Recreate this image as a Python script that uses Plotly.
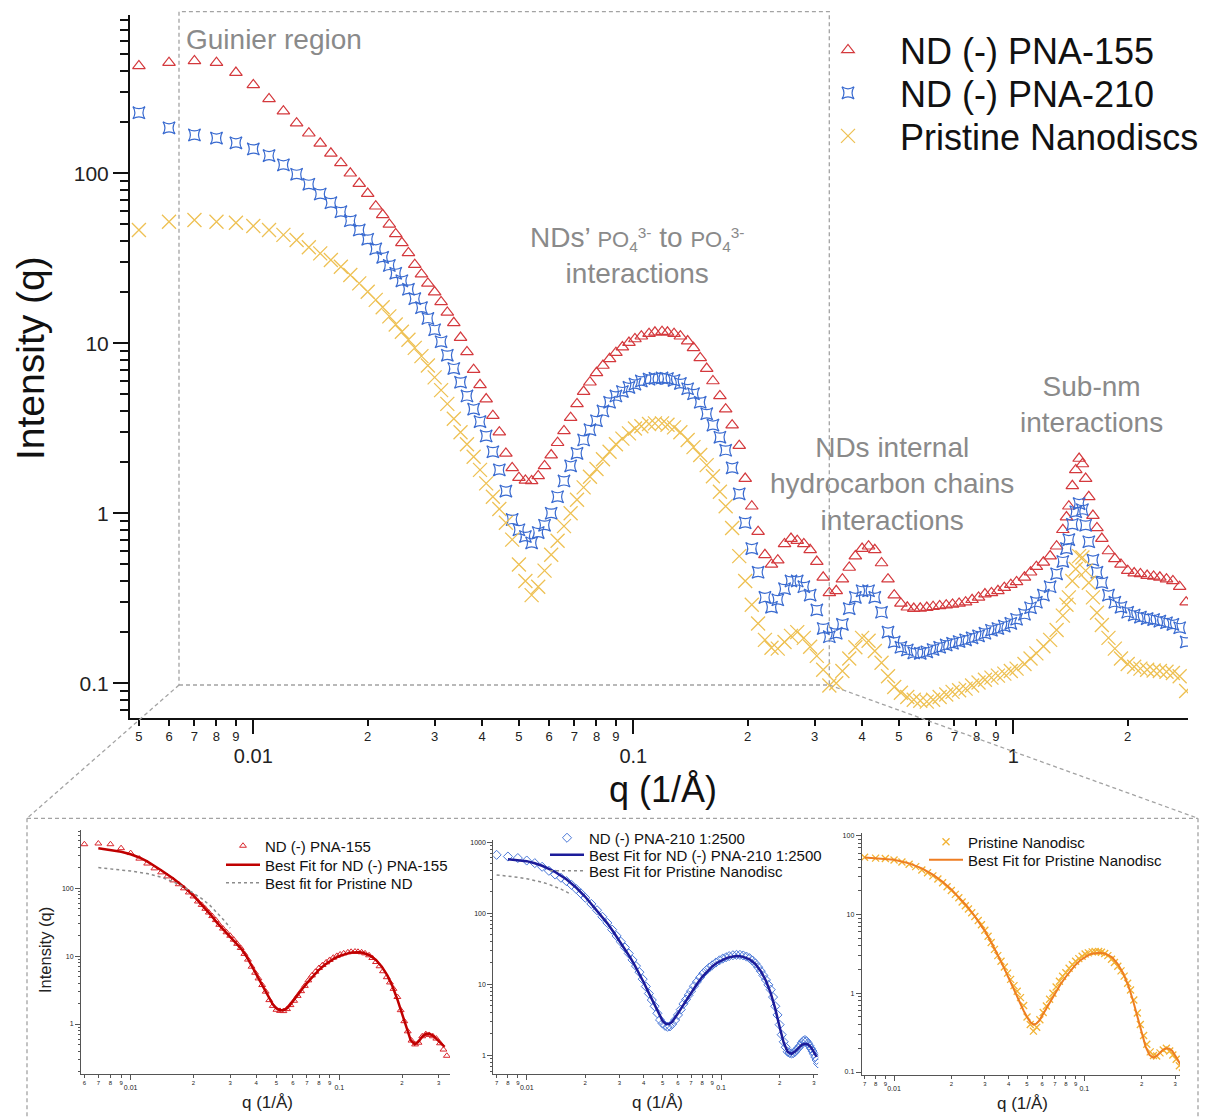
import plotly.graph_objects as go

# page body has an 8px default margin: the figure is drawn 8px right/down
OX, OY = 8, 8
W, H = 1216, 1109

# ---------------- main panel data (q in 1/Å, intensity) ----------------
q_main = [0.005, 0.006, 0.007, 0.008, 0.009, 0.010, 0.011, 0.012, 0.013, 0.014,
          0.015, 0.016, 0.017, 0.018, 0.019, 0.020,
          0.021, 0.0219, 0.0228, 0.0237, 0.0246, 0.0256, 0.0266, 0.0277, 0.0288, 0.030,
          0.0312, 0.0324, 0.0337, 0.0351, 0.0365, 0.038, 0.0395, 0.041, 0.0427, 0.0444,
          0.0462, 0.048, 0.050, 0.052, 0.054, 0.0562, 0.0584, 0.0608, 0.0632, 0.0657,
          0.0684, 0.0711, 0.074, 0.0769, 0.080, 0.0832, 0.0866, 0.090, 0.0936, 0.0974,
          0.101, 0.105, 0.110, 0.114, 0.119, 0.123, 0.128, 0.133, 0.139, 0.144,
          0.150, 0.156, 0.162, 0.169, 0.175, 0.182, 0.190, 0.197, 0.205, 0.213,
          0.222, 0.231, 0.240, 0.250, 0.260, 0.270, 0.281, 0.292, 0.304, 0.316,
          0.328, 0.342, 0.355, 0.370, 0.384, 0.400, 0.416, 0.432, 0.450, 0.468,
          0.486, 0.506, 0.526, 0.547, 0.569, 0.592, 0.615, 0.640, 0.666, 0.692,
          0.720, 0.749, 0.779, 0.810, 0.842, 0.876, 0.911, 0.947, 0.985, 1.02,
          1.07, 1.11, 1.15, 1.20, 1.25, 1.30, 1.35, 1.38, 1.40, 1.43,
          1.46, 1.49, 1.52, 1.55, 1.58, 1.62, 1.66, 1.71, 1.78, 1.85,
          1.92, 2.00, 2.08, 2.16, 2.25, 2.34, 2.43, 2.53, 2.63, 2.74,
          2.85]

I_pna155 = [428, 447, 458, 447, 391, 331, 274, 232, 197, 172,
            150, 131, 115, 100, 87, 76,
            64, 57, 50, 44, 39, 34, 29, 25.5, 22.5, 20,
            17.5, 15.2, 13.2, 10.8, 8.9, 7.0, 5.7, 4.7, 3.75, 3.0,
            2.25, 1.85, 1.62, 1.56, 1.55, 1.66, 1.9, 2.2, 2.6, 3.05,
            3.65, 4.4, 5.2, 5.9, 6.7, 7.4, 8.1, 8.8, 9.5, 10.1,
            10.6, 11.0, 11.4, 11.6, 11.7, 11.6, 11.4, 11.0, 10.3, 9.4,
            8.2, 7.1, 6.0, 4.9, 4.1, 3.3, 2.5, 1.6, 1.1, 0.78,
            0.57, 0.50, 0.53, 0.66, 0.71, 0.69, 0.66, 0.61, 0.52, 0.42,
            0.34, 0.35, 0.41, 0.48, 0.56, 0.62, 0.64, 0.61, 0.51, 0.41,
            0.33, 0.295, 0.28, 0.275, 0.276, 0.279, 0.282, 0.285, 0.288, 0.291,
            0.295, 0.30, 0.31, 0.32, 0.335, 0.34, 0.35, 0.365, 0.38, 0.395,
            0.42, 0.45, 0.485, 0.515, 0.56, 0.64, 0.80, 0.95, 1.1, 1.45,
            1.8, 2.1, 1.95, 1.6, 1.25, 0.97, 0.82, 0.71, 0.60, 0.54,
            0.50, 0.46, 0.445, 0.44, 0.43, 0.425, 0.42, 0.41, 0.40, 0.37,
            0.30]

I_pna210 = [227, 185, 168, 161, 151, 139, 127, 112, 98.6, 86.1,
            75.5, 67.1, 59.4, 52.6, 46.4, 40.9,
            35.9, 32, 28.7, 25.8, 23.3, 20.8, 18.3, 16.2, 14.0, 12.0,
            10.2, 8.5, 7.1, 5.9, 4.9, 4.1, 3.46, 2.85, 2.3, 1.8,
            1.35, 0.92, 0.80, 0.73, 0.67, 0.77, 0.85, 1.0, 1.25, 1.55,
            1.9, 2.25, 2.7, 3.1, 3.5, 4.0, 4.5, 4.9, 5.2, 5.5,
            5.75, 6.0, 6.15, 6.22, 6.25, 6.2, 6.05, 5.8, 5.4, 5.05,
            4.5, 3.85, 3.3, 2.8, 2.35, 1.85, 1.3, 0.88, 0.62, 0.45,
            0.32, 0.28, 0.31, 0.36, 0.40, 0.40, 0.37, 0.33, 0.27, 0.21,
            0.188, 0.197, 0.222, 0.275, 0.32, 0.35, 0.35, 0.32, 0.262, 0.20,
            0.175, 0.163, 0.157, 0.151, 0.150, 0.153, 0.158, 0.163, 0.168, 0.172,
            0.176, 0.180, 0.185, 0.190, 0.197, 0.205, 0.210, 0.217, 0.225, 0.238,
            0.255, 0.278, 0.30, 0.33, 0.37, 0.44, 0.52, 0.62, 0.70, 0.86,
            1.02, 1.14, 1.05, 0.85, 0.68, 0.53, 0.45, 0.39, 0.33, 0.30,
            0.28, 0.262, 0.252, 0.245, 0.240, 0.237, 0.232, 0.227, 0.222, 0.212,
            0.175]

I_pristine = [46.4, 51.9, 53.1, 51.9, 51.2, 49.0, 46.4, 43.4, 40.5, 36.7,
              33.8, 30.9, 28.2, 25.2, 22.5, 20.1,
              18.0, 16.3, 14.4, 12.9, 11.7, 10.5, 9.4, 8.4, 7.4, 6.3,
              5.3, 4.4, 3.6, 3.0, 2.55, 2.15, 1.8, 1.5, 1.25, 1.06,
              0.88, 0.70, 0.50, 0.40, 0.33, 0.37, 0.46, 0.57, 0.69, 0.84,
              1.0, 1.2, 1.42, 1.64, 1.82, 2.08, 2.3, 2.55, 2.75, 2.95,
              3.15, 3.25, 3.35, 3.38, 3.38, 3.32, 3.2, 3.0, 2.7, 2.45,
              2.2, 1.92, 1.65, 1.34, 1.1, 0.82, 0.56, 0.40, 0.29, 0.225,
              0.18, 0.162, 0.16, 0.175, 0.19, 0.20, 0.185, 0.164, 0.145, 0.12,
              0.097, 0.10, 0.118, 0.14, 0.163, 0.185, 0.178, 0.155, 0.132, 0.11,
              0.095, 0.088, 0.083, 0.080, 0.079, 0.078, 0.080, 0.083, 0.086, 0.089,
              0.091, 0.093, 0.097, 0.101, 0.105, 0.108, 0.111, 0.114, 0.118, 0.122,
              0.13, 0.14, 0.15, 0.165, 0.18, 0.206, 0.25, 0.29, 0.32, 0.40,
              0.47, 0.56, 0.55, 0.46, 0.39, 0.32, 0.26, 0.22, 0.185, 0.16,
              0.14, 0.13, 0.125, 0.122, 0.12, 0.119, 0.118, 0.117, 0.115, 0.11,
              0.09]

# ---------------- inset data ----------------
q_pna210_dil = [0.007, 0.008, 0.009, 0.010, 0.011, 0.012, 0.013, 0.014, 0.015, 0.016,
                0.017, 0.018, 0.019, 0.020, 0.0215, 0.023, 0.0245, 0.026, 0.0275, 0.029,
                0.0305, 0.032, 0.0335, 0.035, 0.0365, 0.038, 0.0395, 0.041, 0.0425, 0.044,
                0.0455, 0.047, 0.0485, 0.050, 0.0515, 0.053, 0.0545, 0.056, 0.058, 0.060,
                0.062, 0.064, 0.066, 0.068, 0.070, 0.0725, 0.075, 0.078, 0.081, 0.084,
                0.087, 0.090, 0.094, 0.098, 0.102, 0.106, 0.110, 0.115, 0.120, 0.125,
                0.130, 0.135, 0.140, 0.145, 0.150, 0.155, 0.160, 0.165, 0.170, 0.175,
                0.180, 0.185, 0.190, 0.195, 0.200, 0.205, 0.210, 0.215, 0.220, 0.225,
                0.230, 0.235, 0.240, 0.245, 0.250, 0.255, 0.260, 0.265, 0.270, 0.275,
                0.280, 0.285, 0.290, 0.295, 0.300, 0.305, 0.310, 0.315]
I_pna210_dil = [662, 627, 597, 551, 506, 450, 395, 350, 315, 283,
                250, 218, 190, 165, 135, 110, 89, 73, 58.7, 47.9,
                39.6, 32.9, 27.1, 22.0, 18.0, 14.8, 11.8, 9.3, 7.4, 6.0,
                4.9, 3.9, 3.15, 2.8, 2.6, 2.52, 2.55, 2.75, 3.14, 3.7,
                4.4, 5.3, 6.1, 7.0, 8.0, 9.4, 10.8, 12.5, 14.3, 15.8,
                17.2, 18.5, 20.2, 21.7, 23.0, 24.0, 24.9, 25.6, 25.9, 25.9,
                25.4, 24.5, 23.3, 21.6, 19.6, 17.4, 15.3, 13.3, 11.5, 9.8,
                8.4, 6.6, 4.9, 3.7, 2.7, 1.95, 1.55, 1.3, 1.12, 1.08,
                1.06, 1.07, 1.12, 1.2, 1.28, 1.36, 1.5, 1.6, 1.64, 1.58,
                1.48, 1.36, 1.25, 1.15, 1.05, 0.95, 0.86, 0.77]

q_fit155 = [0.007, 0.008, 0.009, 0.010, 0.011, 0.012, 0.013, 0.014, 0.016, 0.018,
            0.020, 0.022, 0.024, 0.026, 0.028, 0.030, 0.032, 0.034, 0.036, 0.038,
            0.040, 0.042, 0.044, 0.046, 0.048, 0.050, 0.052, 0.054, 0.056, 0.058,
            0.060, 0.063, 0.066, 0.070, 0.075, 0.080, 0.085, 0.090, 0.095, 0.100,
            0.105, 0.110, 0.115, 0.120, 0.125, 0.130, 0.140, 0.150, 0.160, 0.170,
            0.180, 0.190, 0.200, 0.210, 0.220, 0.230, 0.240, 0.250, 0.260, 0.270,
            0.280, 0.290, 0.300, 0.310, 0.320]
I_fit155 = [390, 370, 345, 318, 285, 250, 215, 185, 140, 105,
            78, 57, 42, 31, 24, 19, 15.5, 12.7, 9.8, 7.2,
            5.3, 4.0, 3.1, 2.4, 1.95, 1.7, 1.6, 1.6, 1.7, 1.9,
            2.2, 2.7, 3.2, 4.0, 5.1, 6.3, 7.4, 8.4, 9.3, 10.0,
            10.6, 11.0, 11.3, 11.4, 11.4, 11.2, 10.3, 8.8, 7.0, 5.2,
            3.6, 2.3, 1.4, 0.85, 0.58, 0.50, 0.55, 0.65, 0.72, 0.72,
            0.68, 0.62, 0.56, 0.50, 0.46]

q_fit_pristine_a = [0.007, 0.008, 0.009, 0.010, 0.012, 0.014, 0.016, 0.018, 0.020, 0.022,
                    0.024, 0.026, 0.028, 0.030]
I_fit_pristine_a = [202, 195, 188, 180, 165, 146, 125, 104, 85, 70,
                    56, 44, 34, 26]

q_fit210 = [0.008, 0.009, 0.010, 0.011, 0.012, 0.013, 0.014, 0.016, 0.018, 0.020,
            0.022, 0.024, 0.026, 0.028, 0.030, 0.032, 0.034, 0.036, 0.038, 0.040,
            0.042, 0.044, 0.046, 0.048, 0.050, 0.052, 0.054, 0.056, 0.058, 0.060,
            0.063, 0.066, 0.070, 0.075, 0.080, 0.085, 0.090, 0.095, 0.100, 0.105,
            0.110, 0.115, 0.120, 0.125, 0.130, 0.140, 0.150, 0.160, 0.170, 0.180,
            0.190, 0.200, 0.210, 0.220, 0.230, 0.240, 0.250, 0.260, 0.270, 0.280,
            0.290, 0.300, 0.310]
I_fit210 = [575, 560, 540, 505, 465, 420, 380, 300, 228, 170,
            125, 95, 72, 54, 41, 31.5, 24, 18.3, 14, 10.6,
            8.0, 6.1, 4.7, 3.7, 3.05, 2.75, 2.75, 2.95, 3.35, 3.9,
            4.8, 5.9, 7.6, 10.0, 12.7, 15.3, 17.8, 19.9, 21.7, 23.0,
            24.0, 24.6, 24.9, 24.8, 24.3, 22.4, 19.3, 15.3, 11.2, 7.5,
            4.5, 2.5, 1.5, 1.12, 1.05, 1.13, 1.28, 1.4, 1.45, 1.42,
            1.3, 1.12, 0.95]

q_fit_pristine_b = [0.007, 0.008, 0.009, 0.010, 0.011, 0.012, 0.013, 0.014, 0.015, 0.016, 0.017]
I_fit_pristine_b = [346, 335, 320, 305, 290, 273, 255, 236, 218, 200, 183]

q_fit_pristine = [0.007, 0.008, 0.009, 0.010, 0.012, 0.014, 0.016, 0.018, 0.020, 0.022,
                  0.024, 0.026, 0.028, 0.030, 0.032, 0.034, 0.036, 0.038, 0.040, 0.042,
                  0.044, 0.046, 0.048, 0.050, 0.052, 0.054, 0.056, 0.058, 0.060, 0.063,
                  0.066, 0.070, 0.075, 0.080, 0.085, 0.090, 0.095, 0.100, 0.105, 0.110,
                  0.115, 0.120, 0.125, 0.130, 0.140, 0.150, 0.160, 0.170, 0.180, 0.190,
                  0.200, 0.210, 0.220, 0.230, 0.240, 0.250, 0.260, 0.270, 0.280, 0.290,
                  0.300, 0.310, 0.320]
I_fit_pristine = [53, 52, 51, 49.5, 44.5, 38.5, 32, 26, 20.8, 16.5,
                  13.0, 10.2, 8.0, 6.2, 4.7, 3.6, 2.7, 2.05, 1.55, 1.2,
                  0.95, 0.76, 0.60, 0.50, 0.43, 0.40, 0.41, 0.45, 0.52, 0.64,
                  0.78, 1.0, 1.3, 1.62, 1.97, 2.3, 2.6, 2.85, 3.05, 3.18,
                  3.25, 3.27, 3.23, 3.15, 2.85, 2.35, 1.8, 1.27, 0.82, 0.50,
                  0.31, 0.21, 0.165, 0.152, 0.16, 0.178, 0.193, 0.20, 0.197, 0.185,
                  0.165, 0.143, 0.124]

# ---------------- tick labels ----------------
main_x_major = [0.01, 0.1, 1]
main_x_major_text = ["0.01", "0.1", "1"]
main_x_minor = [0.005, 0.006, 0.007, 0.008, 0.009,
                0.02, 0.03, 0.04, 0.05, 0.06, 0.07, 0.08, 0.09,
                0.2, 0.3, 0.4, 0.5, 0.6, 0.7, 0.8, 0.9, 2]
main_x_minor_text = ["5", "6", "7", "8", "9", "2", "3", "4", "5", "6", "7", "8", "9",
                     "2", "3", "4", "5", "6", "7", "8", "9", "2"]
main_y_major = [0.1, 1, 10, 100]
main_y_major_text = ["0.1", "1", "10", "100"]
main_y_minor = [0.07, 0.08, 0.09, 0.2, 0.3, 0.4, 0.5, 0.6, 0.7, 0.8, 0.9,
                2, 3, 4, 5, 6, 7, 8, 9, 20, 30, 40, 50, 60, 70, 80, 90,
                200, 300, 400, 500, 600, 700, 800]

inset_x_minor = [0.006, 0.007, 0.008, 0.009, 0.02, 0.03, 0.04, 0.05, 0.06, 0.07, 0.08, 0.09, 0.2, 0.3]
inset_x_minor_text = ["6", "7", "8", "9", "2", "3", "4", "5", "6", "7", "8", "9", "2", "3"]
inset_y_minor = [0.2, 0.3, 0.4, 0.5, 0.6, 0.7, 0.8, 0.9, 2, 3, 4, 5, 6, 7, 8, 9,
                 20, 30, 40, 50, 60, 70, 80, 90, 200, 300, 400, 500, 600, 700, 800, 900]

# ---------------- styling ----------------
RED, BLUE, GOLD = "#d4393d", "#3a6bd0", "#eec154"
GREY_TXT = "#8a8a8a"
DASH_C = "#a3a3a3"
FONT = "Liberation Sans, Arial, Helvetica, sans-serif"


def pxx(px):
    return (px - OX) / W


def pxy(py):
    return 1 - (py - OY) / H


fig = go.Figure()

# main traces
fig.add_trace(go.Scatter(x=q_main, y=I_pna155, mode="markers", name="ND (-) PNA-155",
                         marker=dict(symbol="triangle-up-open", size=11, color=RED,
                                     line=dict(width=1.2, color=RED)),
                         xaxis="x", yaxis="y", legend="legend"))
fig.add_trace(go.Scatter(x=q_main, y=I_pna210, mode="markers", name="ND (-) PNA-210",
                         marker=dict(symbol="star-square-open", size=11, color=BLUE,
                                     line=dict(width=1.2, color=BLUE)),
                         xaxis="x", yaxis="y", legend="legend2"))
fig.add_trace(go.Scatter(x=q_main, y=I_pristine, mode="markers", name="Pristine Nanodiscs",
                         marker=dict(symbol="x-thin-open", size=14, color=GOLD,
                                     line=dict(width=1.3, color=GOLD)),
                         xaxis="x", yaxis="y", legend="legend3"))

# inset 1
q1 = [q for q in q_main if q <= 0.34]
fig.add_trace(go.Scatter(x=q1, y=I_pna155[:len(q1)], mode="markers", name="ND (-) PNA-155",
                         marker=dict(symbol="triangle-up-open", size=6, color="#d9262c",
                                     line=dict(width=1, color="#d9262c")),
                         xaxis="x2", yaxis="y2", legend="legend4"))
fig.add_trace(go.Scatter(x=q_fit155, y=I_fit155, mode="lines", name="Best Fit for ND (-) PNA-155",
                         line=dict(color="#c00000", width=2.5),
                         xaxis="x2", yaxis="y2", legend="legend5"))
fig.add_trace(go.Scatter(x=q_fit_pristine_a, y=I_fit_pristine_a, mode="lines", name="Best fit for Pristine ND",
                         line=dict(color="#8c8c8c", width=1.5, dash="dot"),
                         xaxis="x2", yaxis="y2", legend="legend6"))

# inset 2
fig.add_trace(go.Scatter(x=q_pna210_dil, y=I_pna210_dil, mode="markers", name="ND (-) PNA-210 1:2500",
                         marker=dict(symbol="diamond-open", size=7, color="#4a78d8",
                                     line=dict(width=1, color="#4a78d8")),
                         xaxis="x3", yaxis="y3", legend="legend7"))
fig.add_trace(go.Scatter(x=q_fit210, y=I_fit210, mode="lines", name="Best Fit for ND (-) PNA-210 1:2500",
                         line=dict(color="#1c1c9a", width=2.5),
                         xaxis="x3", yaxis="y3", legend="legend8"))
fig.add_trace(go.Scatter(x=q_fit_pristine_b, y=I_fit_pristine_b, mode="lines", name="Best Fit for Pristine Nanodisc",
                         line=dict(color="#8c8c8c", width=1.5, dash="dot"),
                         xaxis="x3", yaxis="y3", legend="legend9"))

# inset 3
q3 = [q for q in q_main if q <= 0.33]
fig.add_trace(go.Scatter(x=q3, y=I_pristine[:len(q3)], mode="markers", name="Pristine Nanodisc",
                         marker=dict(symbol="x-thin-open", size=7, color="#f2b233",
                                     line=dict(width=1.3, color="#f2b233")),
                         xaxis="x4", yaxis="y4", legend="legend10"))
fig.add_trace(go.Scatter(x=q_fit_pristine, y=I_fit_pristine, mode="lines", name="Best Fit for Pristine Nanodisc",
                         line=dict(color="#ee7d22", width=2),
                         xaxis="x4", yaxis="y4", legend="legend11"))

# empty traces so the digit overlay axes are drawn
for xa, ya in [("x5", "y"), ("x6", "y2"), ("x7", "y3"), ("x8", "y4")]:
    fig.add_trace(go.Scatter(x=[None], y=[None], xaxis=xa, yaxis=ya, showlegend=False,
                             hoverinfo="skip", mode="markers"))


def major_x(domain, rng, anchor, vals, text, size, ticklen, lw, lc, standoff):
    return dict(type="log", domain=domain, range=rng, anchor=anchor,
                showline=True, linecolor=lc, linewidth=lw, mirror=False,
                ticks="outside", ticklen=ticklen, tickwidth=lw, tickcolor=lc,
                tickvals=vals, ticktext=text, tickfont=dict(size=size, color="#222", family=FONT),
                ticklabelstandoff=standoff, showgrid=False, zeroline=False)


def minor_x(over, anchor, rng, vals, text, size, ticklen, lw, lc):
    return dict(type="log", overlaying=over, anchor=anchor, range=rng,
                showline=False, ticks="outside", ticklen=ticklen, tickwidth=lw, tickcolor=lc,
                tickvals=vals, ticktext=text, tickfont=dict(size=size, color="#222", family=FONT),
                showgrid=False, zeroline=False)


def log_y(domain, rng, anchor, vals, text, size, ticklen, mticklen, lw, lc, minors):
    return dict(type="log", domain=domain, range=rng, anchor=anchor,
                showline=True, linecolor=lc, linewidth=lw,
                ticks="outside", ticklen=ticklen, tickwidth=lw, tickcolor=lc,
                tickvals=vals, ticktext=text, tickfont=dict(size=size, color="#222", family=FONT),
                minor=dict(tickmode="array", tickvals=minors, ticks="outside",
                           ticklen=mticklen, tickwidth=max(lw * 0.75, 1), tickcolor=lc),
                showgrid=False, zeroline=False)


def one_legend(marker_x, row_y, size, itemwidth):
    left = marker_x - (itemwidth + 10) / 2
    return dict(x=pxx(left), y=pxy(row_y), xanchor="left", yanchor="middle",
                itemwidth=itemwidth, font=dict(size=size, color="#111", family=FONT),
                bgcolor="rgba(0,0,0,0)", borderwidth=0)


main_xr = [-2.3245, 0.4597]
in1_xr, in1_yr = [-2.238, -0.469], [-0.737, 2.86]
in2_xr, in2_yr = [-2.172, -0.5], [-0.263, 3.03]
in3_xr, in3_yr = [-2.17, -0.497], [-1.038, 2.034]

layout = dict(
    width=W, height=H, margin=dict(l=0, r=0, t=0, b=0),
    paper_bgcolor="white", plot_bgcolor="rgba(0,0,0,0)",
    font=dict(family=FONT, color="#111"),
    xaxis=major_x([pxx(130), pxx(1188)], main_xr, "y", main_x_major, main_x_major_text, 20, 14, 2, "#111", 5),
    xaxis5=minor_x("x", "y", main_xr, main_x_minor, main_x_minor_text, 13, 7, 2, "#111"),
    yaxis=log_y([pxy(717.7), pxy(15)], [-1.2024, 2.931], "x", main_y_major, main_y_major_text, 21, 15, 8, 2, "#111", main_y_minor),

    xaxis2=major_x([pxx(81), pxx(450)], in1_xr, "y2", [0.01, 0.1], ["0.01", "0.1"], 7, 5, 1, "#555", 2),
    xaxis6=minor_x("x2", "y2", in1_xr, inset_x_minor, inset_x_minor_text, 6, 3, 1, "#555"),
    yaxis2=log_y([pxy(1074), pxy(830)], in1_yr, "x2", [1, 10, 100], ["1", "10", "100"], 7, 5, 2.5, 1, "#555", inset_y_minor),

    xaxis3=major_x([pxx(493.3), pxx(818.3)], in2_xr, "y3", [0.01, 0.1], ["0.01", "0.1"], 7, 5, 1, "#555", 2),
    xaxis7=minor_x("x3", "y3", in2_xr, inset_x_minor, inset_x_minor_text, 6, 3, 1, "#555"),
    yaxis3=log_y([pxy(1074), pxy(840)], in2_yr, "x3", [1, 10, 100, 1000], ["1", "10", "100", "1000"], 7, 5, 2.5, 1, "#555", inset_y_minor),

    xaxis4=major_x([pxx(861.7), pxx(1180)], in3_xr, "y4", [0.01, 0.1], ["0.01", "0.1"], 7, 5, 1, "#555", 2),
    xaxis8=minor_x("x4", "y4", in3_xr, inset_x_minor, inset_x_minor_text, 6, 3, 1, "#555"),
    yaxis4=log_y([pxy(1075), pxy(833)], in3_yr, "x4", [0.1, 1, 10, 100], ["0.1", "1", "10", "100"], 7, 5, 2.5, 1, "#555", inset_y_minor),

    # main legend: one entry per legend box, so rows can sit where the reference has them
    legend=one_legend(848, 50, 36, 94),
    legend2=one_legend(848, 93, 36, 94),
    legend3=one_legend(848, 136, 36, 94),
    # inset legends
    legend4=one_legend(243, 846, 15, 34),
    legend5=one_legend(243, 865, 15, 34),
    legend6=one_legend(243, 883, 15, 34),
    legend7=one_legend(567, 838, 15, 34),
    legend8=one_legend(567, 855, 15, 34),
    legend9=one_legend(567, 871, 15, 34),
    legend10=one_legend(946, 842, 15, 34),
    legend11=one_legend(946, 860, 15, 34),
)

dash = dict(color=DASH_C, width=1.3, dash="4px,3px")
shapes = [
    # region box on the main panel
    dict(type="rect", xref="paper", yref="paper", x0=pxx(179), x1=pxx(829.3), y0=pxy(685), y1=pxy(11.7),
         line=dash, layer="below"),
    # connectors to the inset frame
    dict(type="line", xref="paper", yref="paper", x0=pxx(179), y0=pxy(685), x1=pxx(27), y1=pxy(818.3), line=dash),
    dict(type="line", xref="paper", yref="paper", x0=pxx(829.3), y0=pxy(685), x1=pxx(1198), y1=pxy(818.3), line=dash),
    # inset frame (open at the bottom)
    dict(type="line", xref="paper", yref="paper", x0=pxx(27), y0=pxy(818.3), x1=pxx(1198), y1=pxy(818.3), line=dash),
    dict(type="line", xref="paper", yref="paper", x0=pxx(27), y0=pxy(818.3), x1=pxx(27), y1=pxy(1125), line=dash),
    dict(type="line", xref="paper", yref="paper", x0=pxx(1198), y0=pxy(818.3), x1=pxx(1198), y1=pxy(1125), line=dash),
]

g = dict(size=28, color=GREY_TXT, family=FONT)
po = "<span style='font-size:22px'>PO<sub>4</sub><sup>3-</sup></span>"
annotations = [
    dict(text="Guinier region", x=pxx(184), y=pxy(40), xanchor="left", yanchor="middle", font=g),
    dict(text="NDs’ " + po + " to " + po + "<br>interactions", x=pxx(637), y=pxy(256),
         xanchor="center", yanchor="middle", font=g),
    dict(text="NDs internal<br>hydrocarbon chains<br>interactions", x=pxx(892), y=pxy(484),
         xanchor="center", yanchor="middle", font=g),
    dict(text="Sub-nm<br>interactions", x=pxx(1091), y=pxy(404), xanchor="center", yanchor="middle", font=g),
    # main axis titles
    dict(text="Intensity (q)", x=pxx(30), y=pxy(358), textangle=-90, xanchor="center", yanchor="middle",
         font=dict(size=39, color="#111", family=FONT)),
    dict(text="q (1/Å)", x=pxx(663), y=pxy(789), xanchor="center", yanchor="middle",
         font=dict(size=36, color="#111", family=FONT)),
    # inset axis titles
    dict(text="Intensity (q)", x=pxx(45), y=pxy(950), textangle=-90, xanchor="center", yanchor="middle",
         font=dict(size=16.5, color="#222", family=FONT)),
    dict(text="q (1/Å)", x=pxx(267), y=pxy(1102), xanchor="center", yanchor="middle",
         font=dict(size=17, color="#222", family=FONT)),
    dict(text="q (1/Å)", x=pxx(657), y=pxy(1102), xanchor="center", yanchor="middle",
         font=dict(size=17, color="#222", family=FONT)),
    dict(text="q (1/Å)", x=pxx(1022), y=pxy(1103), xanchor="center", yanchor="middle",
         font=dict(size=17, color="#222", family=FONT)),
]
for a in annotations:
    a.update(xref="paper", yref="paper", showarrow=False)

layout["shapes"] = shapes
layout["annotations"] = annotations
fig.update_layout(**layout)

fig.write_html("out.html")
